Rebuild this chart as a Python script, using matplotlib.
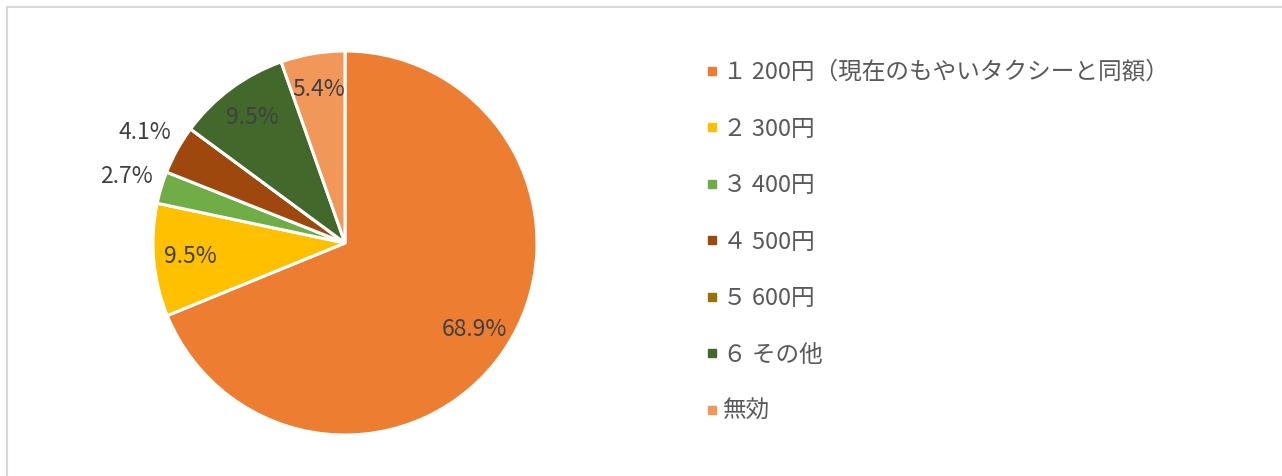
import numpy as np
import matplotlib
matplotlib.use("Agg")
import matplotlib.pyplot as plt
from matplotlib.lines import Line2D

plt.rcParams["font.family"] = ["Noto Sans CJK JP", "DejaVu Sans"]

categories = ["１ 200円（現在のもやいタクシーと同額）", "２ 300円", "３ 400円",
              "４ 500円", "５ 600円", "６ その他", "無効"]
shares = [68.9, 9.5, 2.7, 4.1, 0.0, 9.5, 5.4]
colors = ["#ED7D31", "#FFC000", "#70AD47", "#9E480E", "#997300", "#43682B", "#F1975A"]
# labels drawn outside the pie
outside = [False, False, True, True, False, False, False]

W, H = 1282, 476
fig = plt.figure(figsize=(W / 100, H / 100), dpi=100)

# chart frame (only top/left edges visible in the crop)
fig.add_artist(Line2D([7 / W, 7 / W], [0, 1 - 7 / H], color="#D9D9D9", lw=1.5))
fig.add_artist(Line2D([7 / W, 1], [1 - 7 / H, 1 - 7 / H], color="#D9D9D9", lw=1.5))

cx, cy, R = 345, 476 - 243, 192
ax = fig.add_axes([(cx - R) / W, (cy - R) / H, 2 * R / W, 2 * R / H])
wedges, _ = ax.pie(shares, colors=colors, startangle=90, counterclock=False,
                   radius=1.0, wedgeprops=dict(edgecolor="white", linewidth=2.2))
ax.set_xlim(-1, 1)
ax.set_ylim(-1, 1)
ax.set_aspect("equal")

for w, v, out in zip(wedges, shares, outside):
    if v <= 0:
        continue
    mid = np.deg2rad((w.theta1 + w.theta2) / 2)
    r = 1.19 if out else 0.81
    ax.text(r * np.cos(mid), r * np.sin(mid), f"{v:.1f}%", ha="center", va="center",
            fontsize=16.5, color="#404040", clip_on=False)

handles = [Line2D([], [], marker="s", linestyle="none", markersize=5.5,
                  markerfacecolor=c, markeredgecolor=c) for c in colors]
fig.legend(handles, categories, loc="upper left", bbox_to_anchor=(706 / W, 1 - 61 / H),
           frameon=False, fontsize=17, labelcolor="#595959", handlelength=0.5,
           handletextpad=0.2, labelspacing=1.42, borderaxespad=0, borderpad=0)

fig.savefig("out.png", dpi=100)
